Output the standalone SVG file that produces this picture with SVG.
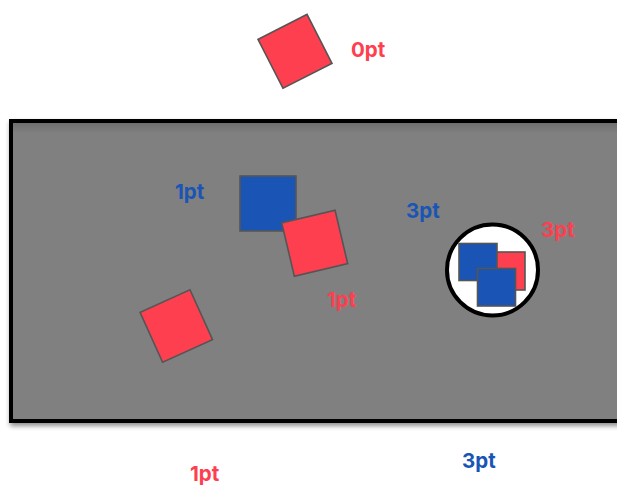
<svg xmlns="http://www.w3.org/2000/svg" width="617" height="486" viewBox="0 0 617 486">
  <defs>
    <filter id="panelShadow" x="-5%" y="-5%" width="115%" height="120%">
      <feGaussianBlur in="SourceAlpha" stdDeviation="2.5"/>
      <feOffset dx="1" dy="3" result="b"/>
      <feComponentTransfer><feFuncA type="linear" slope="0.45"/></feComponentTransfer>
      <feMerge><feMergeNode/><feMergeNode in="SourceGraphic"/></feMerge>
    </filter>
    <linearGradient id="panelTop" x1="0" y1="0" x2="0" y2="1">
      <stop offset="0" stop-color="#6e6e6e"/>
      <stop offset="1" stop-color="#808080"/>
    </linearGradient>
  </defs>
  <style>
    .red { fill: #fd3f4f; stroke: #555; stroke-width: 1.6; }
    .blue { fill: #1a55b5; stroke: #555; stroke-width: 1.6; }
    .lbl { font-family: Inter, "Liberation Sans", sans-serif; font-weight: 700; font-size: 20.5px; }
    .lr { fill: #fd3f4f; }
    .lb { fill: #1a55b5; }
  </style>

  <rect width="617" height="486" fill="#ffffff"/>

  <!-- tilted square above the panel -->
  <g id="top-square">
    <rect class="red" x="-27.5" y="-27.5" width="55" height="55" transform="translate(295 51.3) rotate(-27)"/>
  </g>
  <g id="label-0pt"><text class="lbl lr" x="351" y="57">0pt</text></g>

  <!-- gray panel -->
  <g id="panel">
    <rect x="11" y="121" width="610" height="300" fill="#808080" stroke="#000" stroke-width="4" filter="url(#panelShadow)"/>
    <rect x="13" y="123" width="606" height="10" fill="url(#panelTop)"/>
  </g>

  <g id="blue-square">
    <rect class="blue" x="240" y="176" width="56" height="55"/>
  </g>
  <g id="red-square-mid">
    <rect class="red" x="-27.4" y="-27.4" width="54.8" height="54.8" transform="translate(314.7 243.2) rotate(-13.3)"/>
  </g>
  <g id="red-square-low">
    <rect class="red" x="-27.4" y="-27.4" width="54.8" height="54.8" transform="translate(176.3 326) rotate(-24.3)"/>
  </g>

  <g id="circle-group">
    <circle cx="492.5" cy="270" r="45.5" fill="#ffffff" stroke="#000" stroke-width="4"/>
    <rect class="red" x="487" y="252" width="38" height="38"/>
    <rect class="blue" x="459" y="243.5" width="38" height="37"/>
    <rect class="blue" x="477.5" y="268.5" width="38" height="37.5"/>
  </g>

  <g id="labels">
    <text class="lbl lb" x="175" y="199">1pt</text>
    <text class="lbl lr" x="327" y="307">1pt</text>
    <text class="lbl lb" x="406" y="218">3pt</text>
    <text class="lbl lr" x="541" y="237">3pt</text>
    <text class="lbl lr" x="190" y="481">1pt</text>
    <text class="lbl lb" x="462" y="468">3pt</text>
  </g>
</svg>
